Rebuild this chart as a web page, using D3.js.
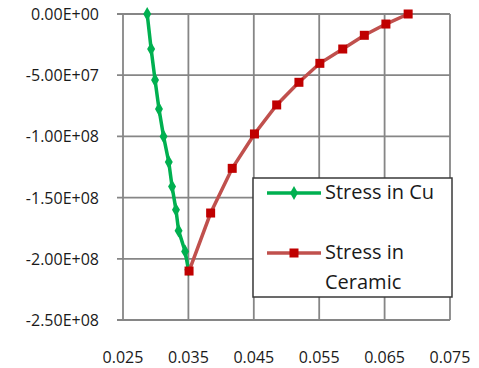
<!DOCTYPE html>
<html>
<head>
<meta charset="utf-8">
<script src="https://cdn.jsdelivr.net/npm/d3@7"></script>
<style>
  body { margin: 0; background: #fff; }
  svg { display: block; font-family: 'Open Sans', sans-serif; }
</style>
</head>
<body>
<svg width="479" height="368"></svg>
<script>
// strain (x) and stress (y)
const cuStrain = [0.0287, 0.0293, 0.0299, 0.0305, 0.0312, 0.0320, 0.0325, 0.0331, 0.0335, 0.0345, 0.0350];
const cuStress = [0, -2.86e7, -5.39e7, -7.76e7, -1.00e8, -1.21e8, -1.41e8, -1.60e8, -1.77e8, -1.94e8, -2.09e8];

const ceramicStrain = [0.0351, 0.0384, 0.0417, 0.0451, 0.0485, 0.0519, 0.0551, 0.0586, 0.0619, 0.0652, 0.0686];
const ceramicStress = [-2.10e8, -1.626e8, -1.261e8, -9.80e7, -7.43e7, -5.58e7, -4.03e7, -2.86e7, -1.74e7, -8.2e6, 0];

const xTicks = [0.025, 0.035, 0.045, 0.055, 0.065, 0.075];
const yTicks = [0, -5e7, -1e8, -1.5e8, -2e8, -2.5e8];

const seriesNames = ['Stress in Cu', 'Stress in Ceramic'];

const svg = d3.select('svg');

const x = d3.scaleLinear().domain([0.025, 0.075]).range([123, 450]);
const y = d3.scaleLinear().domain([-2.5e8, 0]).range([320, 14]);

// excel style 0.00E+00
function sci(v) {
    if (v === 0) return '0.00E+00';
    const e = Math.floor(Math.log10(Math.abs(v)));
    const m = v / Math.pow(10, e);
    return (m < 0 ? '-' : '') + Math.abs(m).toFixed(2) + 'E+' + String(e).padStart(2, '0');
}

const grid = svg.append('g');
grid.selectAll('.hg')
    .data(yTicks)
    .enter()
    .append('line')
    .attr('x1', 117).attr('x2', x(0.075))
    .attr('y1', d => y(d)).attr('y2', d => y(d))
    .attr('stroke', '#868686').attr('stroke-width', 1.8);

grid.selectAll('.vg')
    .data(xTicks)
    .enter()
    .append('line')
    .attr('x1', d => x(d)).attr('x2', d => x(d))
    .attr('y1', y(0)).attr('y2', y(-2.5e8))
    .attr('stroke', '#868686').attr('stroke-width', 1.8);

svg.selectAll('.ylab')
    .data(yTicks)
    .enter()
    .append('text')
    .attr('x', 99)
    .attr('y', d => y(d) + 6)
    .attr('text-anchor', 'end')
    .attr('font-size', 16)
    .attr('fill', '#1a1a1a')
    .text(sci);

svg.selectAll('.xlab')
    .data(xTicks)
    .enter()
    .append('text')
    .attr('x', d => x(d))
    .attr('y', 363)
    .attr('text-anchor', 'middle')
    .attr('font-size', 16)
    .attr('fill', '#1a1a1a')
    .text(d => d3.format('.3f')(d));

const line = d3.line().x(d => x(d[0])).y(d => y(d[1]));
const diamond = d3.symbol().type(d3.symbolDiamond).size(55);

const cu = d3.zip(cuStrain, cuStress);
const cer = d3.zip(ceramicStrain, ceramicStress);

svg.append('path')
    .datum(cu)
    .attr('d', line)
    .attr('fill', 'none')
    .attr('stroke', '#00b050')
    .attr('stroke-width', 3.5);

svg.selectAll('.cum')
    .data(cu)
    .enter()
    .append('path')
    .attr('d', diamond)
    .attr('transform', d => `translate(${x(d[0])},${y(d[1])})`)
    .attr('fill', '#00b050');

svg.append('path')
    .datum(cer)
    .attr('d', line)
    .attr('fill', 'none')
    .attr('stroke', '#c0504d')
    .attr('stroke-width', 3.5);

svg.selectAll('.cerm')
    .data(cer)
    .enter()
    .append('rect')
    .attr('x', d => x(d[0]) - 4.5)
    .attr('y', d => y(d[1]) - 4.5)
    .attr('width', 9).attr('height', 9)
    .attr('fill', '#c00000');

// legend
const lg = svg.append('g');
lg.append('rect')
    .attr('x', 253).attr('y', 178)
    .attr('width', 199).attr('height', 119)
    .attr('fill', '#fff')
    .attr('stroke', '#3a3a3a').attr('stroke-width', 1.5);

lg.append('line')
    .attr('x1', 267).attr('x2', 321).attr('y1', 193).attr('y2', 193)
    .attr('stroke', '#00b050').attr('stroke-width', 3.5);
lg.append('path')
    .attr('d', diamond)
    .attr('transform', 'translate(294,193)')
    .attr('fill', '#00b050');
lg.append('text')
    .attr('x', 325).attr('y', 199)
    .attr('font-size', 20).attr('fill', '#1a1a1a')
    .text(seriesNames[0]);

lg.append('line')
    .attr('x1', 267).attr('x2', 321).attr('y1', 253).attr('y2', 253)
    .attr('stroke', '#c0504d').attr('stroke-width', 3.5);
lg.append('rect')
    .attr('x', 289.5).attr('y', 248.5).attr('width', 9).attr('height', 9)
    .attr('fill', '#c00000');
const t2 = lg.append('text')
    .attr('x', 325).attr('y', 259)
    .attr('font-size', 20).attr('fill', '#1a1a1a');
t2.append('tspan').attr('x', 325).text('Stress in');
t2.append('tspan').attr('x', 325).attr('dy', 30).text('Ceramic');
</script>
</body>
</html>
